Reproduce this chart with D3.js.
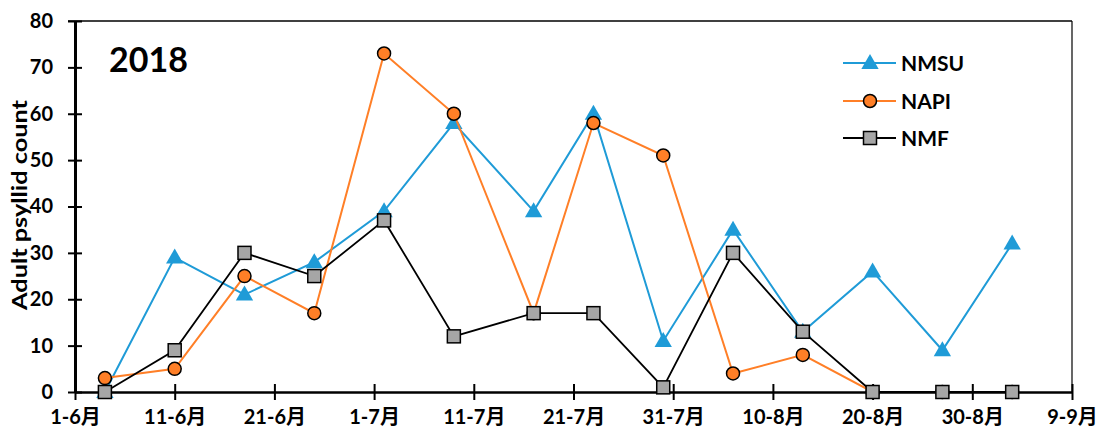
<!DOCTYPE html>
<html><head><meta charset="utf-8">
<script src="https://cdn.jsdelivr.net/npm/d3@7"></script>
<style>
html,body{margin:0;padding:0;background:#fff;}
svg{display:block;font-family:"Lato","Open Sans",sans-serif;font-weight:bold;}
</style></head>
<body><svg id="chart" width="1102" height="440"></svg>
<script>
const dates = ["2018-06-04","2018-06-11","2018-06-18","2018-06-25","2018-07-02","2018-07-09","2018-07-17","2018-07-23","2018-07-30","2018-08-06","2018-08-13","2018-08-20","2018-08-27","2018-09-03"];
const nmsu = [0,29,21,28,39,58,39,60,11,35,13,26,9,32];
const napi = [3,5,25,17,73,60,17,58,51,4,8,0,0,0];
const nmf  = [0,9,30,25,37,12,17,17,1,30,13,0,0,0];
const xTickDates = ["2018-06-01","2018-06-11","2018-06-21","2018-07-01","2018-07-11","2018-07-21","2018-07-31","2018-08-10","2018-08-20","2018-08-30","2018-09-09"];
const yTicks = [0,10,20,30,40,50,60,70,80];
const seriesNames = ["NMSU","NAPI","NMF"];
const title = "2018";
const yLabel = "Adult psyllid count";

const parse = d3.utcParse("%Y-%m-%d");
const svg = d3.select("#chart");
const mLeft = 75, mRight = 1072, mTop = 21, mBottom = 392;

const x = d3.scaleUtc().domain([parse(xTickDates[0]), parse(xTickDates[xTickDates.length-1])]).range([mLeft, mRight]);
const y = d3.scaleLinear().domain([0, 80]).range([mBottom, mTop]);

// frame: top and right lines
svg.append("line").attr("x1", 68).attr("x2", mRight).attr("y1", y(80)).attr("y2", y(80))
  .attr("stroke", "#000").attr("stroke-width", 1.5);
svg.append("line").attr("x1", mRight).attr("x2", mRight).attr("y1", mTop).attr("y2", mBottom)
  .attr("stroke", "#000").attr("stroke-width", 1.2);

// y axis
const yAxis = svg.append("g").attr("transform", `translate(${mLeft},0)`)
  .call(d3.axisLeft(y).tickValues(yTicks).tickSize(0).tickPadding(22));
yAxis.select(".domain").attr("stroke-width", 3);
yAxis.selectAll("text").attr("font-size", 20).attr("font-weight", "bold").attr("fill", "#000")
  .attr("font-family", "Lato, 'Open Sans', sans-serif");
yAxis.selectAll(".tick").append("line").attr("x1", -7).attr("x2", 7).attr("stroke", "#000").attr("stroke-width", 2);

// x axis
const fmt = d => `${d.getUTCDate()}-${d.getUTCMonth()+1}月`;
const xAxis = svg.append("g").attr("transform", `translate(0,${mBottom})`)
  .call(d3.axisBottom(x).tickValues(xTickDates.map(parse)).tickFormat(fmt).tickSize(0).tickPadding(22));
xAxis.select(".domain").attr("stroke-width", 2.5);
xAxis.selectAll("text").attr("font-size", 20).attr("font-weight", "bold").attr("fill", "#000")
  .attr("font-family", "Lato, 'Noto Sans CJK SC', sans-serif").attr("dy", "0.5em");
xAxis.selectAll(".tick").append("line").attr("y1", -8).attr("y2", 8).attr("stroke", "#000").attr("stroke-width", 2);

// y label
svg.append("text").attr("transform", `translate(27,205) rotate(-90)`)
  .attr("text-anchor", "middle").attr("font-size", 21).attr("font-weight", "bold")
  .attr("textLength", 210).attr("lengthAdjust", "spacingAndGlyphs").text(yLabel);

// title
svg.append("text").attr("x", 109).attr("y", 72).attr("font-size", 34).attr("font-weight", "bold").text(title);

const blue = "#1F9BD7", orange = "#FF7F27", gray = "#A6A6A6";
const pts = vals => vals.map((v, i) => [x(parse(dates[i])), y(v)]);
const line = d3.line();

const triangle = d3.symbol().type(d3.symbolTriangle).size(130);

function drawSeries(vals, color, width, markerFn) {
  const p = pts(vals);
  svg.append("path").attr("d", line(p)).attr("fill", "none").attr("stroke", color).attr("stroke-width", width)
    .attr("stroke-linejoin", "miter");
  const g = svg.append("g");
  p.forEach(pt => markerFn(g, pt[0], pt[1]));
}
const drawTri = (g, cx, cy) => g.append("path").attr("d", triangle()).attr("transform", `translate(${cx},${cy+1})`).attr("fill", blue);
const drawCirc = (g, cx, cy) => g.append("circle").attr("cx", cx).attr("cy", cy).attr("r", 6.5).attr("fill", orange).attr("stroke", "#000").attr("stroke-width", 1.5);
const drawSq = (g, cx, cy) => g.append("rect").attr("x", cx-6.5).attr("y", cy-6.5).attr("width", 13).attr("height", 13).attr("fill", gray).attr("stroke", "#000").attr("stroke-width", 1.5);

drawSeries(nmsu, blue, 2, drawTri);
drawSeries(napi, orange, 2, drawCirc);
drawSeries(nmf, "#000", 1.8, drawSq);

// legend
const legY = [63, 101, 138];
const legColors = [blue, orange, "#000"];
const legMarkers = [drawTri, drawCirc, drawSq];
const lg = svg.append("g");
seriesNames.forEach((n, i) => {
  lg.append("line").attr("x1", 843).attr("x2", 896).attr("y1", legY[i]).attr("y2", legY[i])
    .attr("stroke", legColors[i]).attr("stroke-width", 2);
  legMarkers[i](lg, 870, legY[i]);
  lg.append("text").attr("x", 901).attr("y", legY[i]).attr("dy", "0.36em").attr("font-size", 21)
    .attr("font-weight", "bold").text(n);
});
</script></body></html>
